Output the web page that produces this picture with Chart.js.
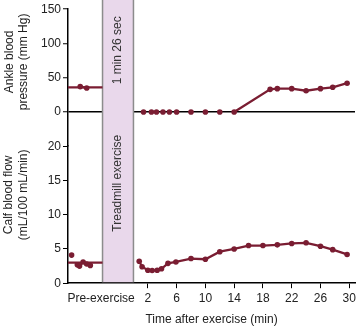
<!DOCTYPE html>
<html>
<head>
<meta charset="utf-8">
<script src="https://cdn.jsdelivr.net/npm/chart.js@4.4.1/dist/chart.umd.min.js"></script>
<style>
  html, body { margin: 0; padding: 0; background: #fff; }
  canvas { display: block; }
</style>
</head>
<body>
<canvas id="exerciseChart" width="359" height="327"></canvas>
<script>
// time axis, minutes after exercise
const timeTicks = [2, 6, 10, 14, 18, 22, 26, 30];
const preLabel = 'Pre-exercise';
const preLabelAt = -4.5;
const timeMin = -9.1;
const timeMax = 30.8;
const exerciseStart = -4.3;
const exerciseEnd = 0;

// ankle blood pressure, mm Hg
const bpTicks = [0, 50, 100, 150];
const preBpLevel = 36;
const preBpTimes = [-7.4, -6.5];
const preBpValues = [37, 35];
const postBpTimes = [1.4, 2.5, 3.2, 4.1, 5, 6, 8, 10, 12, 14, 19, 20, 22, 24, 26, 27.7, 29.7];
const postBpValues = [0, 0, 0, 0, 0, 0, 0, 0, 0, 0, 33, 34, 34, 31, 34, 36, 42];

// calf blood flow, mL/100 mL/min
const flowTicks = [0, 5, 10, 15, 20];
const preFlowLevel = 3;
const preFlowTimes = [-8.6, -7.8, -7.5, -7.0, -6.5, -6.0];
const preFlowValues = [4.1, 2.7, 2.5, 3.1, 2.8, 2.6];
const postFlowTimes = [0.8, 1.2, 2.0, 2.6, 3.3, 3.9, 4.8, 5.9, 8, 10, 12, 14, 16, 18, 20, 22, 24, 26, 27.7, 29.7];
const postFlowValues = [3.2, 2.4, 1.9, 1.85, 1.9, 2.1, 2.9, 3.1, 3.6, 3.5, 4.6, 5.0, 5.5, 5.5, 5.6, 5.8, 5.9, 5.4, 4.9, 4.2];

const maroon = '#7a1d32';
const inkColor = '#222';
const fontFamily = '"Liberation Sans", Arial, Helvetica, sans-serif';

const toPoints = (xs, ys) => xs.map((x, i) => ({ x: x, y: ys[i] }));

function drawVertical(ctx, text, x, y) {
    ctx.save();
    ctx.translate(x, y);
    ctx.rotate(-Math.PI / 2);
    ctx.fillText(text, 0, 0);
    ctx.restore();
}

// shaded exercise period plus the rotated panel titles
const exerciseBand = {
    id: 'exerciseBand',
    beforeDatasetsDraw(chart) {
        const { ctx, chartArea, scales } = chart;
        const x0 = scales.x.getPixelForValue(exerciseStart);
        const x1 = scales.x.getPixelForValue(exerciseEnd);
        const bottom = chartArea.bottom - 1;
        ctx.save();
        ctx.fillStyle = '#e9d8eb';
        ctx.fillRect(x0, 0, x1 - x0, bottom);
        ctx.strokeStyle = '#8c8c8c';
        ctx.lineWidth = 1.5;
        ctx.beginPath();
        ctx.moveTo(x0, 0);
        ctx.lineTo(x0, bottom);
        ctx.moveTo(x1, 0);
        ctx.lineTo(x1, bottom);
        ctx.stroke();

        ctx.fillStyle = '#333';
        ctx.font = '12px ' + fontFamily;
        ctx.textAlign = 'center';
        ctx.textBaseline = 'middle';
        const xc = (x0 + x1) / 2;
        drawVertical(ctx, '1 min 26 sec', xc, scales.yBp.getPixelForValue(90));
        drawVertical(ctx, 'Treadmill exercise', xc, scales.yFlow.getPixelForValue(14.6));

        ctx.fillStyle = inkColor;
        const yBpMid = scales.yBp.getPixelForValue(73);
        drawVertical(ctx, 'Ankle blood', 10, yBpMid);
        drawVertical(ctx, 'pressure (mm Hg)', 24, yBpMid);
        const yFlowMid = scales.yFlow.getPixelForValue(12.9);
        drawVertical(ctx, 'Calf blood flow', 9, yFlowMid);
        drawVertical(ctx, '(mL/100 mL/min)', 24, yFlowMid);
        ctx.restore();
    }
};

const lineStyle = {
    borderColor: maroon,
    backgroundColor: maroon,
    borderWidth: 2.3,
    pointRadius: 2.8,
    pointBorderWidth: 0,
    fill: false,
    tension: 0
};

new Chart(document.getElementById('exerciseChart'), {
    type: 'line',
    data: {
        datasets: [
            {
                ...lineStyle,
                yAxisID: 'yBp',
                pointRadius: 0,
                data: [{ x: timeMin, y: preBpLevel }, { x: exerciseStart, y: preBpLevel }]
            },
            {
                ...lineStyle,
                yAxisID: 'yBp',
                data: toPoints(preBpTimes, preBpValues)
            },
            {
                ...lineStyle,
                yAxisID: 'yBp',
                data: toPoints(postBpTimes, postBpValues),
                // flat stretch sits on the black zero line
                segment: {
                    borderColor: ctx => (ctx.p0.parsed.y === 0 && ctx.p1.parsed.y === 0) ? 'transparent' : maroon
                }
            },
            {
                ...lineStyle,
                yAxisID: 'yFlow',
                pointRadius: 0,
                data: [{ x: timeMin, y: preFlowLevel }, { x: exerciseStart, y: preFlowLevel }]
            },
            {
                ...lineStyle,
                yAxisID: 'yFlow',
                data: toPoints(preFlowTimes, preFlowValues),
                segment: {
                    borderColor: ctx => ctx.p0DataIndex === 0 ? 'transparent' : maroon
                }
            },
            {
                ...lineStyle,
                yAxisID: 'yFlow',
                data: toPoints(postFlowTimes, postFlowValues)
            }
        ]
    },
    options: {
        responsive: false,
        animation: false,
        layout: { padding: { left: 28, top: 5, right: 2, bottom: 0 } },
        plugins: {
            legend: { display: false },
            tooltip: { enabled: false }
        },
        scales: {
            x: {
                type: 'linear',
                min: timeMin,
                max: timeMax,
                afterBuildTicks: scale => {
                    scale.ticks = [preLabelAt, ...timeTicks].map(v => ({ value: v }));
                },
                ticks: {
                    autoSkip: false,
                    maxRotation: 0,
                    padding: 3,
                    color: inkColor,
                    font: { family: fontFamily, size: 12 },
                    callback: value => value === preLabelAt ? preLabel : value
                },
                grid: {
                    drawOnChartArea: false,
                    tickLength: 5,
                    tickWidth: 1,
                    tickColor: ctx => (ctx.tick && ctx.tick.value < 0) ? 'transparent' : '#000'
                },
                border: { color: '#000', width: 1.5 },
                title: {
                    display: true,
                    text: 'Time after exercise (min)',
                    color: inkColor,
                    font: { family: fontFamily, size: 12 },
                    padding: { top: 4, bottom: 0 }
                }
            },
            yFlow: {
                type: 'linear',
                position: 'left',
                stack: 'panels',
                stackWeight: 1,
                min: 0,
                max: 20,
                afterBuildTicks: scale => {
                    scale.ticks = flowTicks.map(v => ({ value: v }));
                },
                afterFit: scale => { scale.width = 40; },
                ticks: {
                    padding: 2,
                    color: inkColor,
                    font: { family: fontFamily, size: 12 }
                },
                grid: {
                    drawOnChartArea: false,
                    tickLength: 5,
                    tickColor: '#000'
                },
                border: { color: '#000', width: 1.5 }
            },
            yBp: {
                type: 'linear',
                position: 'left',
                stack: 'panels',
                stackWeight: 1,
                min: -50,
                max: 150,
                afterBuildTicks: scale => {
                    scale.ticks = bpTicks.map(v => ({ value: v }));
                },
                afterFit: scale => { scale.width = 40; },
                ticks: {
                    padding: 2,
                    color: inkColor,
                    font: { family: fontFamily, size: 12 }
                },
                grid: {
                    drawOnChartArea: true,
                    color: ctx => (ctx.tick && ctx.tick.value === 0) ? '#000' : 'transparent',
                    lineWidth: 1.5,
                    tickLength: 5,
                    tickColor: '#000',
                    tickWidth: 1
                },
                border: { color: '#000', width: 1.5 }
            }
        }
    },
    plugins: [exerciseBand]
});
</script>
</body>
</html>
